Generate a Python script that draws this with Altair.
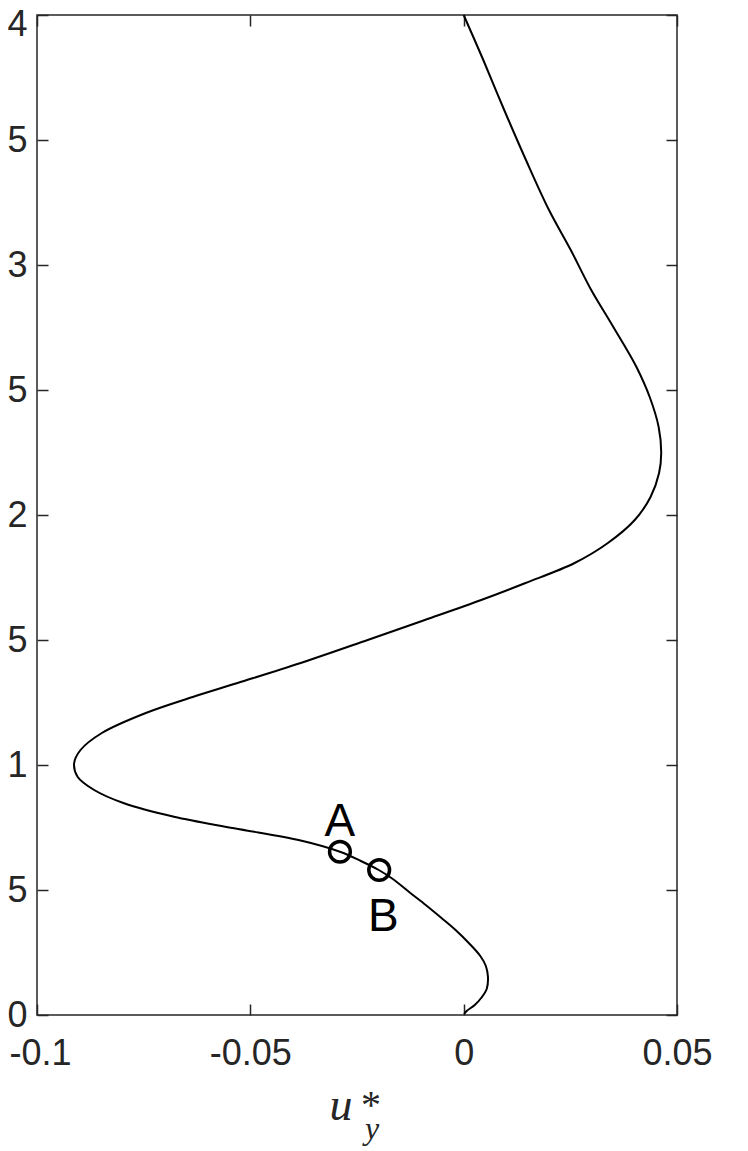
import altair as alt
import pandas as pd

# curve u*_y (x) versus height (y), ordered along the curve
curve_y = [0.004, 0.016, 0.040, 0.068, 0.104, 0.152, 0.196, 0.236, 0.288, 0.340, 0.388,
           0.440, 0.488, 0.544, 0.580, 0.616, 0.653, 0.698, 0.747, 0.793, 0.847, 0.900,
           0.953, 1.007, 1.060, 1.128, 1.208, 1.272, 1.328, 1.408, 1.500, 1.580, 1.660,
           1.728, 1.808, 1.888, 1.980, 2.072, 2.168, 2.248, 2.352, 2.472, 2.592, 2.680,
           2.780, 2.900, 3.060, 3.220, 3.420, 3.620, 3.820, 4.000]
curve_u = [0.0001, 0.0007, 0.0026, 0.0041, 0.0054, 0.0057, 0.0052, 0.0039, 0.0012,
           -0.0019, -0.0052, -0.0089, -0.0125, -0.0166, -0.0199, -0.0241, -0.0290,
           -0.0382, -0.0538, -0.0679, -0.0796, -0.0866, -0.0905, -0.0913, -0.0898,
           -0.0848, -0.0745, -0.0635, -0.0530, -0.0382, -0.0225, -0.0091, 0.0041,
           0.0145, 0.0260, 0.0338, 0.0401, 0.0438, 0.0458, 0.0463, 0.0457, 0.0436,
           0.0405, 0.0376, 0.0341, 0.0299, 0.0251, 0.0200, 0.0146, 0.0095, 0.0046, 0.0]

# marked points A and B
mark_names = ["A", "B"]
mark_u = [-0.029, -0.0198]
mark_y = [0.653, 0.580]
label_u = [-0.029, -0.0188]
label_y = [0.773, 0.393]

x_ticks = [-0.1, -0.05, 0, 0.05]
x_tick_labels = ["-0.1", "-0.05", "0", "0.05"]
y_ticks = [0, 0.5, 1, 1.5, 2, 2.5, 3, 3.5, 4]
y_tick_labels = ["0", "5", "1", "5", "2", "5", "3", "5", "4"]

AX = "#262626"
FONT = "Liberation Sans"

curve_df = pd.DataFrame({"u": curve_u, "y": curve_y, "i": list(range(len(curve_u)))})
marks_df = pd.DataFrame({"name": mark_names, "u": mark_u, "y": mark_y})
labels_df = pd.DataFrame({"name": mark_names, "u": label_u, "y": label_y})

x_expr = "[" + ",".join("'%s'" % s for s in x_tick_labels) + "][round((datum.value + 0.1) * 20)]"
y_expr = "[" + ",".join("'%s'" % s for s in y_tick_labels) + "][round(datum.value * 2)]"

xscale = alt.Scale(domain=[-0.1, 0.05], nice=False, zero=False)
yscale = alt.Scale(domain=[0, 4], nice=False, zero=False)

tick_style = dict(domain=False, grid=False, tickSize=11, offset=-11, tickColor=AX,
                  tickWidth=1.5, title=None)
label_style = dict(labelFont=FONT, labelColor=AX, labelOverlap=False, labelFlush=False)

x_axis = alt.Axis(orient="bottom", values=x_ticks, labelExpr=x_expr, labelPadding=21,
                  labelFontSize=36,
                  labelOffset={"condition": {"test": "datum.value <= -0.1", "value": 3}, "value": 0},
                  **tick_style, **label_style)
y_axis = alt.Axis(orient="left", values=y_ticks, labelExpr=y_expr, labelPadding=10,
                  labelFontSize=36, labelBaseline="middle",
                  labelOffset={"condition": {"test": "datum.value >= 4", "value": 9}, "value": 0},
                  **tick_style, **label_style)
top_axis = alt.Axis(orient="top", values=x_ticks, labels=False, **tick_style)
right_axis = alt.Axis(orient="right", values=y_ticks, labels=False, **tick_style)

line = alt.Chart(curve_df).mark_line(color="black", strokeWidth=2, interpolate="catmull-rom").encode(
    x=alt.X("u:Q", scale=xscale, axis=x_axis),
    y=alt.Y("y:Q", scale=yscale, axis=y_axis),
    order="i:Q",
)

points = alt.Chart(marks_df).mark_point(shape="circle", filled=False, size=430, strokeWidth=3.5,
                                        color="black", opacity=1).encode(
    x=alt.X("u:Q", scale=xscale, axis=top_axis),
    y=alt.Y("y:Q", scale=yscale, axis=right_axis),
)

labels = alt.Chart(labels_df).mark_text(font=FONT, fontSize=46, color="black",
                                         baseline="middle", align="center").encode(
    x=alt.X("u:Q", scale=xscale, axis=None),
    y=alt.Y("y:Q", scale=yscale, axis=None),
    text="name:N",
)

title_u = alt.Chart(pd.DataFrame({"t": ["u"]})).mark_text(
    font="Liberation Serif", fontStyle="italic", fontSize=46, color=AX, align="center",
    baseline="alphabetic").encode(x=alt.value(304), y=alt.value(1105), text="t:N")
title_star = alt.Chart(pd.DataFrame({"t": ["*"]})).mark_text(
    font="Liberation Serif", fontSize=40, color=AX, align="center",
    baseline="alphabetic").encode(x=alt.value(334), y=alt.value(1103), text="t:N")
title_y = alt.Chart(pd.DataFrame({"t": ["y"]})).mark_text(
    font="Liberation Serif", fontStyle="italic", fontSize=32, color=AX, align="center",
    baseline="alphabetic").encode(x=alt.value(335), y=alt.value(1124), text="t:N")

chart = alt.layer(line, points, labels, title_u, title_star, title_y).resolve_axis(
    x="independent", y="independent"
).properties(
    width=640, height=1000,
    padding={"left": 29, "top": 7, "right": 60, "bottom": 135},
    autosize=alt.AutoSizeParams(type="none"),
).configure_view(stroke=AX, strokeWidth=1.5)

chart.save("out.html", embed_options={"renderer": "svg", "actions": False})
